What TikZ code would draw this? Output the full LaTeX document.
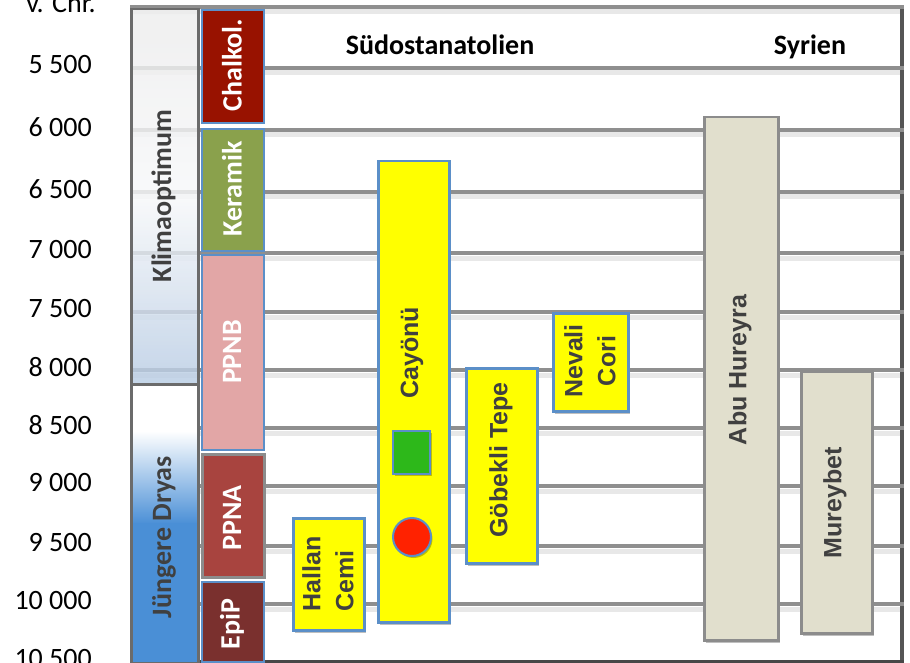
\documentclass[tikz,border=0pt]{standalone}
\usepackage{fontspec}
\setmainfont{Carlito}
\newfontfamily\arialf{Liberation Sans}
\usetikzlibrary{shadows}
\definecolor{gridgray}{HTML}{8F8F8F}
\definecolor{darkframe}{HTML}{555555}
\definecolor{txtgray}{HTML}{404040}
\definecolor{siteblue}{HTML}{5B8FC8}
\definecolor{siteyellow}{HTML}{FFFF00}
\definecolor{beige}{HTML}{E1DFCD}
\definecolor{beigeedge}{HTML}{8C8C8C}
\definecolor{chalkred}{HTML}{981200}
\definecolor{keramgreen}{HTML}{8AA14C}
\definecolor{ppnbpink}{HTML}{E2A6A6}
\definecolor{ppnared}{HTML}{A8443F}
\definecolor{epipbrown}{HTML}{7A302E}
\definecolor{klimablue}{HTML}{B8CCE4}
\definecolor{dryasblue}{HTML}{4A8FD6}
\definecolor{sqgreen}{HTML}{2DB81A}
\definecolor{circred}{HTML}{FF2200}
\newcommand\szA{\fontsize{28}{33}\selectfont}
\newcommand\szB{\fontsize{25}{33}\selectfont}
\tikzset{
  gridline/.style={draw=gridgray, line width=4pt},
  gridshade/.style={draw=black!9, line width=5pt},
  axislab/.style={anchor=east, inner sep=0pt, font=\szA, text=black},
  header/.style={anchor=base, inner sep=0pt, font=\szA\bfseries, text=black},
  period/.style={draw=siteblue, line width=2pt, anchor=north west, inner sep=0pt, minimum width=62pt},
  periodtxt/.style={rotate=90, inner sep=0pt, font=\szA\bfseries, text=white},
  climatxt/.style={rotate=90, inner sep=0pt, font=\szA\bfseries, text=txtgray},
  sitebox/.style={draw=siteblue, line width=2.5pt, fill=siteyellow, anchor=north west, inner sep=0pt,
    drop shadow={shadow xshift=2pt, shadow yshift=-3pt, opacity=0.25, fill=black}},
  syrbox/.style={draw=beigeedge, line width=2.5pt, fill=beige, anchor=north west, inner sep=0pt,
    drop shadow={shadow xshift=2pt, shadow yshift=-3pt, opacity=0.25, fill=black}},
  sitetxt/.style={rotate=90, inner sep=0pt, font=\arialf\szB\bfseries, text=txtgray},
}
\begin{document}
\begin{tikzpicture}[x=1pt,y=-1pt]
\useasboundingbox (0,0) rectangle (910,663);
\fill[white] (0,0) rectangle (910,663);

% grid
\foreach \yy in {7,68,130,192,253,312,370,428,486,546,604} {
  \draw[gridshade] (130,\yy+5) -- (900,\yy+5);
}
\draw[line width=4pt, darkframe] (902,7) -- (902,663);
\foreach \yy in {7,68,130,192,253,312,370,428,486,546,604} {
  \draw[gridline] (130,\yy) -- (904,\yy);
}
\draw[line width=4pt, draw=black!72] (130,662) -- (904,662);

% axis labels
\node[axislab] (lvchr) at (96,3) {v. Chr.};
\node[axislab] (l5500) at (92,65) {5 500};
\node[axislab] (l6000) at (92,127) {6 000};
\node[axislab] (l6500) at (92,189) {6 500};
\node[axislab] (l7000) at (92,250) {7 000};
\node[axislab] (l7500) at (92,309) {7 500};
\node[axislab] (l8000) at (92,367) {8 000};
\node[axislab] (l8500) at (92,425) {8 500};
\node[axislab] (l9000) at (92,483) {9 000};
\node[axislab] (l9500) at (92,543) {9 500};
\node[axislab] (l10000) at (92,601) {10 000};
\node[axislab] (l10500) at (92,659) {10 500};

% climate column
\node[draw=black!58, line width=2.5pt, anchor=north west, inner sep=0pt,
  minimum width=67pt, minimum height=375pt, fill opacity=0.82,
  top color=black!7, bottom color=klimablue, middle color=klimablue!80!black!7] (klima) at (130,8) {};
\node[climatxt] (klimatxt) at (163.5,196) {Klimaoptimum};
\fill[white] (130,383) rectangle (197,432);
\shade[top color=white, bottom color=dryasblue] (130,431) rectangle (197,524);
\fill[dryasblue] (130,523) rectangle (197,662);
\node[draw=black!58, line width=2.5pt, anchor=north west, inner sep=0pt,
  minimum width=67pt, minimum height=279pt] (dryas) at (130,383) {};
\node[climatxt] (dryastxt) at (164,537) {Jüngere Dryas};

% periods
\node[period, fill=chalkred, minimum height=113pt] (chalk) at (201,9) {};
\node[periodtxt] (chalktxt) at (232,65) {Chalkol.};
\node[period, fill=keramgreen, minimum height=122pt] (keram) at (201,128) {};
\node[periodtxt] (keramtxt) at (232,189) {Keramik};
\node[period, fill=ppnbpink, minimum height=195pt] (ppnb) at (201,254) {};
\node[periodtxt] (ppnbtxt) at (232,352) {PPNB};
\node[period, draw=beigeedge, line width=3pt, fill=ppnared, minimum height=123pt] (ppna) at (201,453) {};
\node[periodtxt] (ppnatxt) at (232,518) {PPNA};
\node[period, fill=epipbrown, minimum height=80pt] (epip) at (201,581) {};
\node[periodtxt] (epiptxt) at (232,624) {EpiP};

% headers
\node[header] (hsued) at (440,55) {Südostanatolien};
\node[header] (hsyr) at (810,55) {Syrien};

% sites Südostanatolien
\node[sitebox, minimum width=71pt, minimum height=112pt] (hallan) at (292,517) {};
\node[sitetxt, align=left] (hallantxt) at (328,574) {Hallan\\Cemi};
\node[sitebox, minimum width=71pt, minimum height=461pt] (cayonu) at (377,160) {};
\node[sitetxt] (cayonutxt) at (412,353) {Cayönü};
\node[draw=siteblue, line width=2pt, fill=sqgreen, anchor=north west, inner sep=0pt,
  minimum width=37pt, minimum height=43pt,
  drop shadow={shadow xshift=1.5pt, shadow yshift=-2pt, opacity=0.25, fill=black}] (square) at (392,430) {};
\node[circle, draw=siteblue, line width=2pt, fill=circred, inner sep=0pt, minimum size=38pt,
  drop shadow={shadow xshift=1.5pt, shadow yshift=-2pt, opacity=0.25, fill=black}] (dot) at (412,537) {};
\node[sitebox, minimum width=71pt, minimum height=195pt] (gobekli) at (465,367) {};
\node[sitetxt] (gobeklitxt) at (501,460) {Göbekli Tepe};
\node[sitebox, minimum width=75pt, minimum height=98pt] (nevali) at (552,312) {};
\node[sitetxt, align=center] (nevalitxt) at (590,361) {Nevali\\Cori};

% sites Syrien
\node[syrbox, minimum width=74pt, minimum height=523pt] (abu) at (703,116) {};
\node[sitetxt] (abutxt) at (740,370) {Abu Hureyra};
\node[syrbox, minimum width=71pt, minimum height=262pt] (mureybet) at (800,370) {};
\node[sitetxt] (mureybettxt) at (835,503) {Mureybet};
\end{tikzpicture}
\end{document}
